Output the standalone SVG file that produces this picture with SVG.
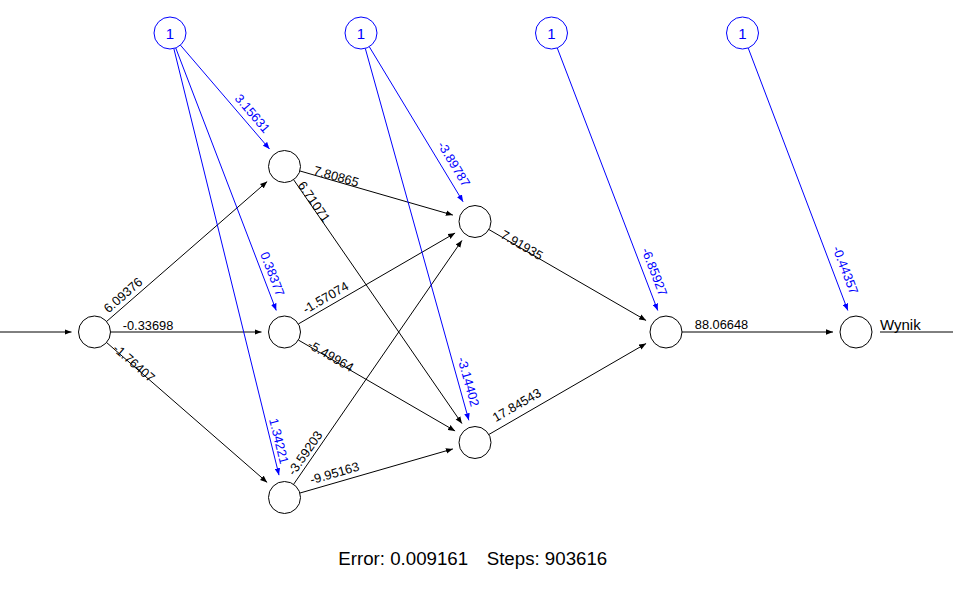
<svg xmlns="http://www.w3.org/2000/svg" width="953" height="606" viewBox="0 0 953 606">
<style>
.n{fill:#fff;stroke:#000;stroke-width:1}
.bn{fill:#fff;stroke:#00f;stroke-width:1}
.e{stroke:#000;stroke-width:1;fill:none}
.be{stroke:#00f;stroke-width:1;fill:none}
.w{font-family:"Liberation Sans",Arial,sans-serif;font-size:12.8px;fill:#000;text-anchor:middle}
.bw{font-family:"Liberation Sans",Arial,sans-serif;font-size:12.8px;fill:#00f;text-anchor:middle}
.one{font-family:"Liberation Sans",Arial,sans-serif;font-size:15px;fill:#00f;text-anchor:middle}
.lab{font-family:"Liberation Sans",Arial,sans-serif;font-size:15px;fill:#000}
.cap{font-family:"Liberation Sans",Arial,sans-serif;font-size:18.7px;fill:#000}
</style>
<defs>
<marker id="ah" viewBox="-7 -3 7 6" refX="0" refY="0" markerWidth="7" markerHeight="6" markerUnits="userSpaceOnUse" orient="auto"><path d="M0,0 L-7,-2.8 L-7,2.8 Z" fill="#000"/></marker>
<marker id="ahb" viewBox="-7 -3 7 6" refX="0" refY="0" markerWidth="7" markerHeight="6" markerUnits="userSpaceOnUse" orient="auto"><path d="M0,0 L-7,-2.8 L-7,2.8 Z" fill="#00f"/></marker>
</defs>
<rect width="953" height="606" fill="#fff"/>
<g id="connectors">
<line class="e" x1="0" y1="332" x2="71.5" y2="332" marker-end="url(#ah)"/>
<line class="e" x1="106.57" y1="321.49" x2="267.16" y2="181.61" marker-end="url(#ah)"/>
<line class="e" x1="110.5" y1="332" x2="261.5" y2="332" marker-end="url(#ah)"/>
<line class="e" x1="106.57" y1="342.51" x2="267.16" y2="482.39" marker-end="url(#ah)"/>
<line class="e" x1="299.87" y1="170.94" x2="452.9" y2="215.12" marker-end="url(#ah)"/>
<line class="e" x1="293.59" y1="179.67" x2="461.94" y2="423.57" marker-end="url(#ah)"/>
<line class="e" x1="298.34" y1="323.97" x2="455.1" y2="233.04" marker-end="url(#ah)"/>
<line class="e" x1="298.34" y1="340.03" x2="455.1" y2="430.96" marker-end="url(#ah)"/>
<line class="e" x1="293.59" y1="484.33" x2="461.94" y2="240.43" marker-end="url(#ah)"/>
<line class="e" x1="299.87" y1="493.06" x2="452.9" y2="448.88" marker-end="url(#ah)"/>
<line class="e" x1="488.85" y1="229.51" x2="646.09" y2="320.48" marker-end="url(#ah)"/>
<line class="e" x1="488.85" y1="434.49" x2="646.09" y2="343.52" marker-end="url(#ah)"/>
<line class="e" x1="682" y1="332" x2="833" y2="332" marker-end="url(#ah)"/>
<line class="e" x1="880" y1="332" x2="953" y2="332"/>
<line class="be" x1="180.42" y1="45.14" x2="269.53" y2="149.04" marker-end="url(#ahb)"/>
<line class="be" x1="175.72" y1="47.94" x2="276.28" y2="310.52" marker-end="url(#ahb)"/>
<line class="be" x1="173.83" y1="48.53" x2="279" y2="475.17" marker-end="url(#ahb)"/>
<line class="be" x1="369.28" y1="46.69" x2="463.1" y2="201.82" marker-end="url(#ahb)"/>
<line class="be" x1="365.29" y1="48.41" x2="468.83" y2="420.34" marker-end="url(#ahb)"/>
<line class="be" x1="557.22" y1="47.94" x2="657.78" y2="310.52" marker-end="url(#ahb)"/>
<line class="be" x1="748.18" y1="47.96" x2="847.84" y2="310.5" marker-end="url(#ahb)"/>
<text class="w" transform="translate(123 295) rotate(-41)" y="4.5">6.09376</text>
<text class="w" x="148" y="329.5">-0.33698</text>
<text class="w" transform="translate(134 363) rotate(41.1)" y="4.5">-1.76407</text>
<text class="w" transform="translate(336.3 176.3) rotate(16.1)" y="4.5">7.80865</text>
<text class="w" transform="translate(314 201.7) rotate(55.4)" y="4.5">6.71071</text>
<text class="w" transform="translate(325.5 297.5) rotate(-30.1)" y="4.5">-1.57074</text>
<text class="w" transform="translate(330.8 355.8) rotate(30.1)" y="4.5">-5.49964</text>
<text class="w" transform="translate(305 453) rotate(-55.4)" y="4.5">-3.59203</text>
<text class="w" transform="translate(334.5 473) rotate(-16.2)" y="4.5">-9.95163</text>
<text class="w" transform="translate(522 245) rotate(30)" y="4.5">7.91935</text>
<text class="w" transform="translate(516.7 405) rotate(-30)" y="4.5">17.84543</text>
<text class="w" x="721.5" y="329.3">88.06648</text>
<text class="bw" transform="translate(252.5 113.3) rotate(49.5)" y="4.5">3.15631</text>
<text class="bw" transform="translate(272.5 274) rotate(69)" y="4.5">0.38377</text>
<text class="bw" transform="translate(279 441) rotate(76.2)" y="4.5">1.34221</text>
<text class="bw" transform="translate(454 164) rotate(58.8)" y="4.5">-3.89787</text>
<text class="bw" transform="translate(468.5 381.7) rotate(74.4)" y="4.5">-3.14402</text>
<text class="bw" transform="translate(654.5 271.7) rotate(69)" y="4.5">-6.85927</text>
<text class="bw" transform="translate(845.5 270) rotate(69.2)" y="4.5">-0.44357</text>
</g>
<g id="input"><circle class="n" cx="94.5" cy="332" r="16"/></g>
<g id="h1a"><circle class="n" cx="284.5" cy="166.5" r="16"/></g>
<g id="h1b"><circle class="n" cx="284.5" cy="332" r="16"/></g>
<g id="h1c"><circle class="n" cx="284.5" cy="497.5" r="16"/></g>
<g id="h2a"><circle class="n" cx="475" cy="221.5" r="16"/></g>
<g id="h2b"><circle class="n" cx="475" cy="442.5" r="16"/></g>
<g id="h3"><circle class="n" cx="666" cy="332" r="16"/></g>
<g id="output"><circle class="n" cx="856" cy="332" r="16"/><text class="lab" x="880" y="330">Wynik</text></g>
<g id="bias1"><circle class="bn" cx="170" cy="33" r="16"/><text class="one" x="170" y="38.5">1</text></g>
<g id="bias2"><circle class="bn" cx="361" cy="33" r="16"/><text class="one" x="361" y="38.5">1</text></g>
<g id="bias3"><circle class="bn" cx="551.5" cy="33" r="16"/><text class="one" x="551.5" y="38.5">1</text></g>
<g id="bias4"><circle class="bn" cx="742.5" cy="33" r="16"/><text class="one" x="742.5" y="38.5">1</text></g>
<g id="caption"><text class="cap" x="338.3" y="565">Error: 0.009161</text><text class="cap" x="486.7" y="565">Steps: 903616</text></g>
</svg>
